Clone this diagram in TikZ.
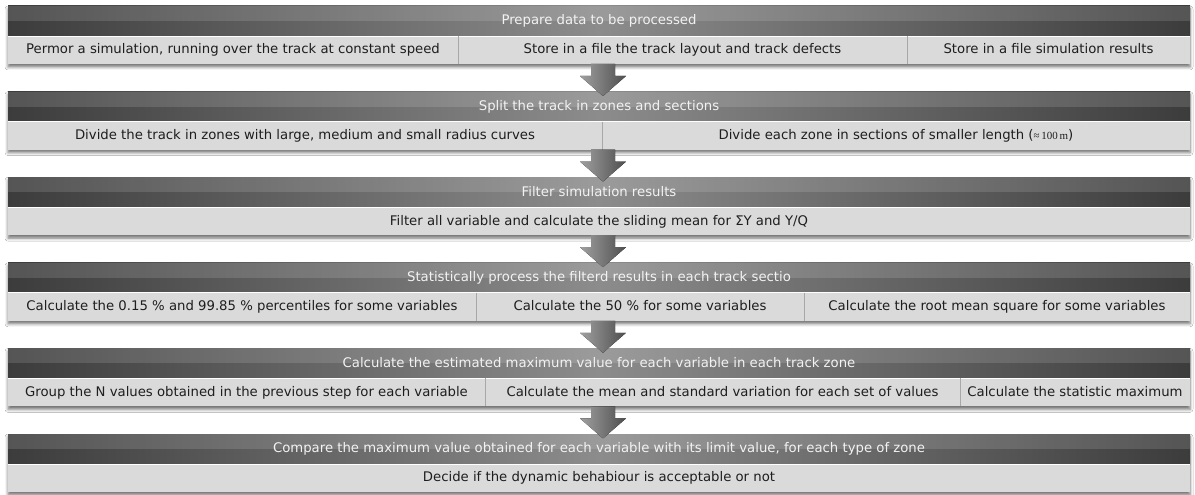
\documentclass[tikz,border=0pt]{standalone}
\usepackage{fontspec}
\setmainfont{DejaVu Sans}
\newfontfamily\serifnum{Liberation Serif}
\usetikzlibrary{shadows.blur,calc}
\definecolor{hdark}{HTML}{3C3C3C}
\definecolor{hmid}{HTML}{8C8C8C}
\definecolor{subfill}{HTML}{DADADA}
\definecolor{subtext}{HTML}{1E1E1E}
\definecolor{hdrtext}{HTML}{F2F2F2}
\definecolor{sepdark}{HTML}{A8A8A8}
\definecolor{arrlight}{HTML}{A0A0A0}
\definecolor{arrdark}{HTML}{4E4E4E}
\tikzset{
  txt/.style={font=\fontsize{13.3}{15}\selectfont, text height=1.0em, text depth=0.2em},
  hdr/.style={txt, anchor=north west, minimum width=1182bp, minimum height=30bp,
    inner sep=0pt, outer sep=0pt, left color=hdark, right color=hdark,
    middle color=hmid, text=hdrtext},
  cell/.style={txt, anchor=north west, minimum height=28bp, inner sep=0pt,
    outer sep=0pt, fill=subfill, text=subtext},
  blk/.style={fill=white, blur shadow={shadow xshift=0pt, shadow yshift=-3pt,
    shadow blur radius=3pt, shadow opacity=55}},
  gloss/.style={fill=white, opacity=0.13},
  hilite/.style={draw=white, line width=0.8bp},
  sepline/.style={draw=sepdark, line width=1bp},
  downarrow/.style={left color=arrlight, right color=arrdark}
}
\newcommand{\arrowat}[1]{%
  \fill[downarrow, shift={(#1)}] (-12,0) -- (12,0) -- (12,12) -- (23,12)
    -- (0,32) -- (-23,12) -- (-12,12) -- cycle;}
\begin{document}
\begin{tikzpicture}[x=1bp,y=-1bp]
\useasboundingbox[fill=white] (0,0) rectangle (1195,495);

% ---------- Block 1
\path[blk] (8,6) rectangle (1190,64);
\node[hdr] (h1) at (8,6) {Prepare data to be processed};
\fill[gloss] (h1.north west) rectangle (h1.east);
\node[cell, minimum width=450bp] (s1a) at (8,36) {Permor a simulation, running over the track at constant speed};
\node[cell, minimum width=449bp] (s1b) at (458,36) {Store in a file the track layout and track defects};
\node[cell, minimum width=283bp] (s1c) at (907,36) {Store in a file simulation results};
\draw[hilite] (s1a.north west) -- (s1c.north east);
\draw[sepline] (s1a.north east) -- (s1a.south east);
\draw[sepline] (s1b.north east) -- (s1b.south east);

% ---------- Block 2
\path[blk] (8,91.6) rectangle (1190,149.6);
\node[hdr] (h2) at (8,91.6) {Split the track in zones and sections};
\fill[gloss] (h2.north west) rectangle (h2.east);
\node[cell, minimum width=594bp] (s2a) at (8,121.6) {Divide the track in zones with large, medium and small radius curves};
\node[cell, minimum width=588bp] (s2b) at (602,121.6) {Divide each zone in sections of smaller length ({\serifnum\fontsize{11}{13}\selectfont ≈\,100\,m})};
\draw[hilite] (s2a.north west) -- (s2b.north east);
\draw[sepline] (s2a.north east) -- (s2a.south east);

% ---------- Block 3
\path[blk] (8,177.2) rectangle (1190,235.2);
\node[hdr] (h3) at (8,177.2) {Filter simulation results};
\fill[gloss] (h3.north west) rectangle (h3.east);
\node[cell, minimum width=1182bp] (s3) at (8,207.2) {Filter all variable and calculate the sliding mean for ΣY and Y/Q};
\draw[hilite] (s3.north west) -- (s3.north east);

% ---------- Block 4
\path[blk] (8,262.8) rectangle (1190,320.8);
\node[hdr] (h4) at (8,262.8) {Statistically process the filterd results in each track sectio};
\fill[gloss] (h4.north west) rectangle (h4.east);
\node[cell, minimum width=468bp] (s4a) at (8,292.8) {Calculate the 0.15 \% and 99.85 \% percentiles for some variables};
\node[cell, minimum width=328bp] (s4b) at (476,292.8) {Calculate the 50 \% for some variables};
\node[cell, minimum width=386bp] (s4c) at (804,292.8) {Calculate the root mean square for some variables};
\draw[hilite] (s4a.north west) -- (s4c.north east);
\draw[sepline] (s4a.north east) -- (s4a.south east);
\draw[sepline] (s4b.north east) -- (s4b.south east);

% ---------- Block 5
\path[blk] (8,348.4) rectangle (1190,406.4);
\node[hdr] (h5) at (8,348.4) {Calculate the estimated maximum value for each variable in each track zone};
\fill[gloss] (h5.north west) rectangle (h5.east);
\node[cell, minimum width=477bp] (s5a) at (8,378.4) {Group the N values obtained in the previous step for each variable};
\node[cell, minimum width=475bp] (s5b) at (485,378.4) {Calculate the mean and standard variation for each set of values};
\node[cell, minimum width=230bp] (s5c) at (960,378.4) {Calculate the statistic maximum};
\draw[hilite] (s5a.north west) -- (s5c.north east);
\draw[sepline] (s5a.north east) -- (s5a.south east);
\draw[sepline] (s5b.north east) -- (s5b.south east);

% ---------- Block 6
\path[blk] (8,434) rectangle (1190,492);
\node[hdr] (h6) at (8,434) {Compare the maximum value obtained for each variable with its limit value, for each type of zone};
\fill[gloss] (h6.north west) rectangle (h6.east);
\node[cell, minimum width=1182bp] (s6) at (8,464) {Decide if the dynamic behabiour is acceptable or not};
\draw[hilite] (s6.north west) -- (s6.north east);

% ---------- Arrows between blocks
\coordinate (g1) at (603,64);
\coordinate (g2) at (603,149.6);
\coordinate (g3) at (603,235.2);
\coordinate (g4) at (603,320.8);
\coordinate (g5) at (603,406.4);
\arrowat{g1}
\arrowat{g2}
\arrowat{g3}
\arrowat{g4}
\arrowat{g5}
\end{tikzpicture}
\end{document}
